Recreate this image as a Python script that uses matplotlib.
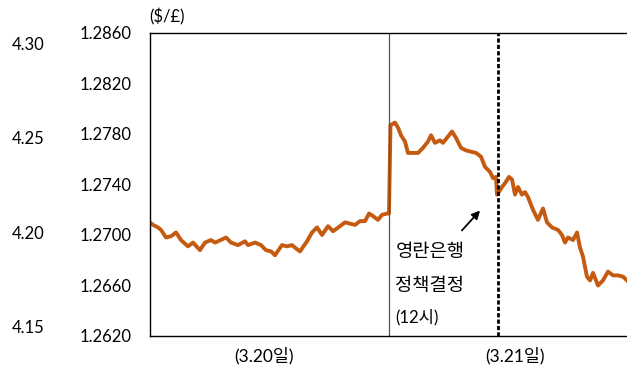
import matplotlib
matplotlib.use("Agg")
from matplotlib import pyplot as plt

plt.rcParams['font.family'] = ['Lato', 'Noto Sans CJK KR', 'DejaVu Sans']

# hours since start of 3.20 and GBP/USD rate
hours = [0.00, 0.30, 0.81, 1.11, 1.61, 2.11, 2.62, 3.12, 3.82, 4.33, 5.03, 5.53,
         6.14, 6.54, 6.84, 7.65, 8.15, 8.86, 9.56, 9.86, 10.57, 11.17, 11.67, 12.18,
         12.58, 13.28, 13.79, 14.29, 14.59, 15.09, 15.80, 16.30, 16.81, 17.31, 17.91, 18.42,
         19.12, 19.62, 20.13, 20.63, 21.13, 21.64, 22.04, 22.44, 22.94, 23.35, 23.85, 24.05,
         24.20, 24.65, 24.96, 25.26, 25.66, 25.96, 26.47, 26.97, 27.47, 27.97, 28.28, 28.68,
         29.18, 29.48, 29.99, 30.39, 30.79, 31.30, 31.80, 32.30, 32.81, 33.31, 33.71, 34.21,
         34.52, 34.82, 34.92, 35.02, 35.42, 35.72, 36.13, 36.43, 36.73, 37.03, 37.43, 37.74,
         38.04, 38.54, 39.04, 39.55, 39.95, 40.45, 41.06, 41.46, 41.76, 42.06, 42.57, 42.97,
         43.27, 43.57, 43.97, 44.28, 44.58, 45.08, 45.58, 46.09, 46.59, 47.09, 47.60, 48.00]
rate = [1.2710, 1.2708, 1.2706, 1.2704, 1.2698, 1.2699, 1.2702, 1.2696, 1.2691, 1.2694, 1.2688, 1.2694,
        1.2696, 1.2694, 1.2695, 1.2698, 1.2694, 1.2692, 1.2695, 1.2692, 1.2694, 1.2692, 1.2688, 1.2687,
        1.2684, 1.2692, 1.2691, 1.2692, 1.2690, 1.2687, 1.2695, 1.2702, 1.2706, 1.2700, 1.2707, 1.2703,
        1.2707, 1.2710, 1.2709, 1.2708, 1.2711, 1.2711, 1.2717, 1.2715, 1.2712, 1.2716, 1.2717, 1.2717,
        1.2787, 1.2789, 1.2785, 1.2779, 1.2774, 1.2765, 1.2765, 1.2765, 1.2769, 1.2774, 1.2779, 1.2773,
        1.2775, 1.2773, 1.2778, 1.2782, 1.2777, 1.2769, 1.2767, 1.2766, 1.2765, 1.2762, 1.2754, 1.2750,
        1.2745, 1.2746, 1.2732, 1.2733, 1.2738, 1.2741, 1.2746, 1.2744, 1.2732, 1.2738, 1.2732, 1.2734,
        1.2730, 1.2720, 1.2712, 1.2721, 1.2710, 1.2706, 1.2704, 1.2700, 1.2694, 1.2698, 1.2696, 1.2702,
        1.2690, 1.2683, 1.2667, 1.2664, 1.2670, 1.2660, 1.2664, 1.2671, 1.2668, 1.2668, 1.2667, 1.2664]

yticks = [1.2620, 1.2660, 1.2700, 1.2740, 1.2780, 1.2820, 1.2860]
left_ticks = [4.15, 4.20, 4.25, 4.30]
day_labels = ['(3.20일)', '(3.21일)']
day_label_pos = [11.5, 36.7]
day_split = 24
boe_hour = 35.0

fig = plt.figure(figsize=(6.27, 3.67), dpi=100)
ax = fig.add_axes([150/627, 31/367, 477/627, 303/367])

ax.plot(hours, rate, color='#C55A11', lw=2.8, solid_joinstyle='round')
ax.axvline(day_split, color='#555555', lw=0.9)
ax.axvline(boe_hour, color='black', lw=2, linestyle=(0, (1.5, 0.8)))

ax.set_xlim(0, 48)
ax.set_ylim(1.2620, 1.2860)
ax.set_yticks(yticks)
ax.set_yticklabels([f'{v:.4f}' for v in yticks], fontsize=12)
ax.set_xticks(day_label_pos)
ax.set_xticklabels(day_labels, fontsize=12.5)
ax.tick_params(axis='y', length=0, pad=13)
ax.tick_params(axis='x', length=0, pad=8)
ax.spines['right'].set_visible(False)
for s in ['left', 'top', 'bottom']:
    ax.spines[s].set_linewidth(1.0)

# extra left-hand scale
ax2 = ax.twinx()
ax2.set_ylim(4.1452, 4.3053)
ax2.yaxis.set_ticks_position('left')
ax2.set_yticks(left_ticks)
ax2.set_yticklabels([f'{v:.2f}' for v in left_ticks], fontsize=12)
ax2.tick_params(axis='y', length=0, pad=76)
for s in ax2.spines.values():
    s.set_visible(False)

fig.text(149/627, 1 - 17/367, '($/£)', fontsize=12, ha='left', va='center')

ax.annotate('', xy=(33.4, 1.2721), xytext=(31.2, 1.2702),
            arrowprops=dict(arrowstyle='-|>', color='black', lw=1.3, mutation_scale=12))
ax.text(24.7, 1.2687, '영란은행', fontsize=13.5, ha='left', va='center')
ax.text(24.7, 1.2660, '정책결정', fontsize=13.5, ha='left', va='center')
ax.text(24.7, 1.2635, '(12시)', fontsize=12, ha='left', va='center')

fig.savefig('out.png', dpi=100)
